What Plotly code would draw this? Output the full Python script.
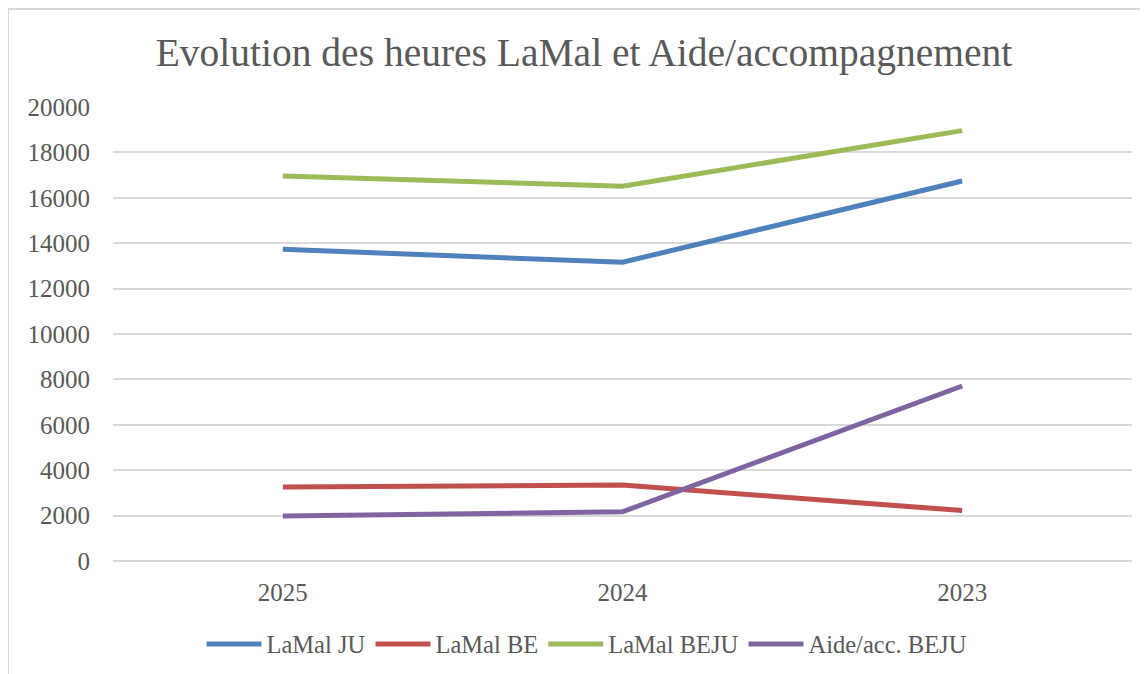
import plotly.graph_objects as go

years = ["2025", "2024", "2023"]
lamal_ju = [13730, 13160, 16740]
lamal_be = [3260, 3350, 2220]
lamal_beju = [16960, 16510, 18960]
aide_beju = [1980, 2170, 7710]

series_names = ["LaMal JU", "LaMal BE", "LaMal BEJU", "Aide/acc. BEJU"]
series_values = [lamal_ju, lamal_be, lamal_beju, aide_beju]
colors = ["#4F81BD", "#C0504D", "#9BBB59", "#8064A2"]

FONT = "Liberation Serif"
TXT = "#595959"

fig = go.Figure()
for name, vals, col in zip(series_names, series_values, colors):
    fig.add_trace(go.Scatter(x=years, y=vals, mode="lines", name=name,
                             line=dict(color=col, width=5)))

W, H = 1148, 674
OFF = 8  # page body margin
# screen-pixel plot box: x 113..1132, y 107..561
L, T = 113 - OFF, 107 - OFF
R, B = W - (1132 - OFF), H - (561 - OFF)
pw, ph = W - L - R, H - T - B

def px(x):
    return (x - OFF - L) / pw

def py(y):
    return (H - B - (y - OFF)) / ph

fig.update_layout(
    width=W, height=H,
    margin=dict(l=L, r=R, t=T, b=B, autoexpand=False),
    paper_bgcolor="white", plot_bgcolor="white",
    font=dict(family=FONT, color=TXT, size=24),
    title=dict(text="Evolution des heures LaMal et Aide/accompagnement",
               x=(584 - OFF) / W, xanchor="center", y=1 - (52 - OFF) / H, yanchor="middle",
               xref="container", yref="container",
               font=dict(family=FONT, size=39.5, color=TXT)),
    xaxis=dict(type="category", showgrid=False, showline=False, ticks="",
               automargin=False, ticklabelstandoff=14,
               tickfont=dict(size=25, color=TXT), range=[-0.5, 2.5], fixedrange=True),
    yaxis=dict(range=[0, 20000], dtick=2000, tickformat="d", showgrid=True,
               gridcolor="#D9D9D9", gridwidth=2, zeroline=True,
               zerolinecolor="#D9D9D9", zerolinewidth=2, automargin=False,
               showline=False, ticks="", ticklabelstandoff=22,
               tickfont=dict(size=25, color=TXT)),
    showlegend=True,
    legend=dict(orientation="h", x=px(587), xanchor="center",
                y=py(644), yanchor="middle", font=dict(size=24.5, color=TXT),
                itemwidth=55, tracegroupgap=0, bgcolor="rgba(0,0,0,0)"),
    shapes=[
        dict(type="line", xref="paper", yref="paper", x0=px(8), x1=px(8),
             y0=py(9), y1=py(H + 20), line=dict(color="#D9D9D9", width=2)),
        dict(type="line", xref="paper", yref="paper", x0=px(8), x1=px(W + 20),
             y0=py(9), y1=py(9), line=dict(color="#D9D9D9", width=2)),
    ],
)

fig.write_html("out.html")
